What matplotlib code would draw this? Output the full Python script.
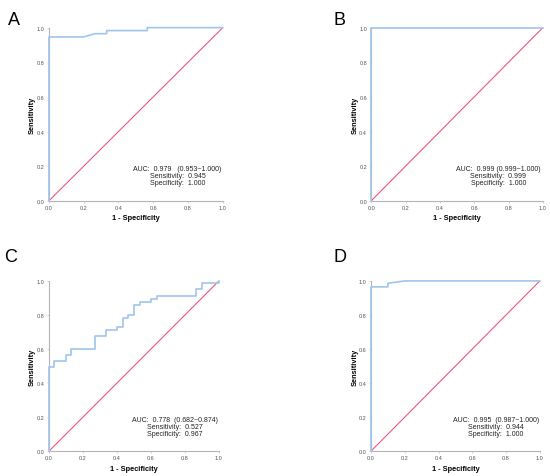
import matplotlib.pyplot as plt

plt.rcParams['font.family'] = ['Liberation Sans', 'DejaVu Sans']

# ROC curves (1 - specificity, sensitivity)
a_fpr = [0.0, 0.0, 0.198, 0.265, 0.332, 0.332, 0.566, 0.566, 1.0]
a_tpr = [0.0, 0.946, 0.946, 0.965, 0.965, 0.983, 0.983, 1.0, 1.0]

b_fpr = [0.0, 0.0, 1.0]
b_tpr = [0.0, 1.0, 1.0]

c_fpr = [0.0, 0.0, 0.03, 0.03, 0.098, 0.098, 0.131, 0.131, 0.269, 0.269,
         0.333, 0.333, 0.4, 0.4, 0.433, 0.433, 0.467, 0.467, 0.5, 0.5,
         0.533, 0.533, 0.6, 0.6, 0.635, 0.635, 0.867, 0.867, 0.9, 0.9, 1.0, 1.0]
c_tpr = [0.0, 0.495, 0.495, 0.53, 0.53, 0.566, 0.566, 0.603, 0.603, 0.676,
         0.676, 0.711, 0.711, 0.731, 0.731, 0.784, 0.784, 0.80, 0.80, 0.857,
         0.857, 0.876, 0.876, 0.892, 0.892, 0.912, 0.912, 0.951, 0.951, 0.988, 0.988, 1.0]

d_fpr = [0.0, 0.0, 0.1, 0.1, 0.2, 1.0]
d_tpr = [0.0, 0.965, 0.965, 0.986, 1.0, 1.0]

panels = ['A', 'B', 'C', 'D']
curves = [(a_fpr, a_tpr), (b_fpr, b_tpr), (c_fpr, c_tpr), (d_fpr, d_tpr)]
stats = [
    'AUC:  0.979   (0.953~1.000)\nSensitivity:  0.945\nSpecificity:  1.000',
    'AUC:  0.999 (0.999~1.000)\nSensitivity:  0.999\nSpecificity:  1.000',
    'AUC:  0.778  (0.682~0.874)\nSensitivity:  0.527\nSpecificity:  0.967',
    'AUC:  0.995  (0.987~1.000)\nSensitivity:  0.944\nSpecificity:  1.000',
]
ticks = [0.0, 0.2, 0.4, 0.6, 0.8, 1.0]

# axes boxes [left, bottom, width, height] in figure fraction
boxes = [
    [0.089, 0.577, 0.316, 0.363],
    [0.675, 0.577, 0.312, 0.363],
    [0.089, 0.052, 0.309, 0.357],
    [0.6745, 0.052, 0.307, 0.357],
]
label_pos = [(0.015, 0.975), (0.607, 0.975), (0.008, 0.478), (0.607, 0.478)]

fig = plt.figure(figsize=(5.5, 4.77), dpi=100)

for i in range(4):
    ax = fig.add_axes(boxes[i])
    ax.plot([0, 1], [0, 1], color='#f2557c', lw=0.8, zorder=2)
    ax.plot(curves[i][0], curves[i][1], color='#9fc5ec', lw=1.2, zorder=3,
            clip_on=False)
    ax.set_xlim(0, 1)
    ax.set_ylim(0, 1)
    ax.set_xticks(ticks)
    ax.set_yticks(ticks)
    ax.set_xticklabels(['%.1f' % t for t in ticks])
    ax.set_yticklabels(['%.1f' % t for t in ticks])
    ax.tick_params(labelsize=4, length=1.5, width=0.4, pad=1.5,
                   colors='#b0b0b0', labelcolor='#555555')
    for s in ['top', 'right']:
        ax.spines[s].set_visible(False)
    for s in ['left', 'bottom']:
        ax.spines[s].set_color('#b5b5b5')
        ax.spines[s].set_linewidth(0.8)
    ax.set_xlabel('1 - Specificity', fontsize=5.3, fontweight='bold', labelpad=3)
    ax.set_ylabel('Sensitivity', fontsize=5.3, fontweight='bold', labelpad=0.5)
    ax.text(0.74, 0.145, stats[i], fontsize=5, ha='center', va='center',
            linespacing=1.0, color='#222222', transform=ax.transAxes)
    fig.text(label_pos[i][0], label_pos[i][1], panels[i], fontsize=13,
             ha='left', va='top')

fig.savefig('out.png', dpi=100)
